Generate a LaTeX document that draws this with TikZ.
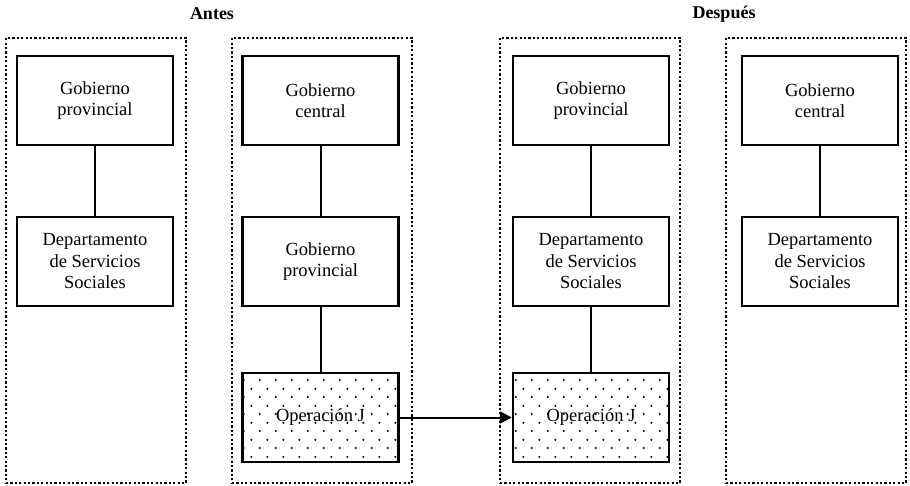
\documentclass[tikz,border=0pt]{standalone}
\usepackage{fontspec}
\setmainfont{Liberation Serif}
\newfontfamily\labelfont{Liberation Serif}
\usetikzlibrary{arrows.meta,patterns}

\pgfdeclarepatternformonly{sparsedots}{\pgfqpoint{0pt}{0pt}}{\pgfqpoint{16pt}{17pt}}{\pgfqpoint{16pt}{17pt}}{%
  \pgfpathcircle{\pgfqpoint{4pt}{4.25pt}}{1.2pt}%
  \pgfpathcircle{\pgfqpoint{12pt}{12.75pt}}{1.2pt}%
  \pgfusepath{fill}}

\begin{document}
\begin{tikzpicture}
[ x=1pt, y=-1pt
, font=\labelfont\fontsize{18.5}{21.5}\selectfont
, frame/.style={rectangle, draw, line width=2.4pt, dash pattern=on 2.2pt off 2.2pt, minimum width=180pt, minimum height=445pt, inner sep=0pt}
, unit/.style={rectangle, draw, line width=2.4pt, minimum width=156pt, minimum height=89pt, inner sep=0pt, align=center}
, project/.style={unit, pattern=sparsedots}
, heading/.style={font=\labelfont\fontsize{18}{21.5}\selectfont\bfseries}
, link/.style={line width=2pt}
]
\useasboundingbox (0,0) rectangle (910,486);
% Titles:
\node (antes) [heading] at (212,14) {Antes};
\node (despues) [heading] at (724,14) {Después};
% Dotted frames:
\node (f1) [frame] at (96,260.5) {};
\node (f2) [frame] at (322,260.5) {};
\node (f3) [frame] at (590,260.5) {};
\node (f4) [frame] at (816,260.5) {};
% Before:
\node (gp1) [unit] at (95,100.5) {Gobierno\\provincial};
\node (dss1) [unit] at (95,261.5) {Departamento\\de Servicios\\Sociales};
\node (gc2) [unit] at (320.5,100.5) {Gobierno\\central};
\node (gp2) [unit] at (320.5,261.5) {Gobierno\\provincial};
\node (opj2) [project] at (320.5,417.5) {Operación J};
% After:
\node (gp3) [unit] at (591,100.5) {Gobierno\\provincial};
\node (dss3) [unit] at (591,261.5) {Departamento\\de Servicios\\Sociales};
\node (opj3) [project] at (591,417.5) {Operación J};
\node (gc4) [unit] at (820,100.5) {Gobierno\\central};
\node (dss4) [unit] at (820,261.5) {Departamento\\de Servicios\\Sociales};
% Links:
\draw [link] (gp1) -- (dss1);
\draw [link] (gc2) -- (gp2) -- (opj2);
\draw [link] (gp3) -- (dss3) -- (opj3);
\draw [link] (gc4) -- (dss4);
\draw [link, -{Triangle[length=12pt,width=12pt]}] (opj2) -- (opj3);
\end{tikzpicture}
\end{document}
